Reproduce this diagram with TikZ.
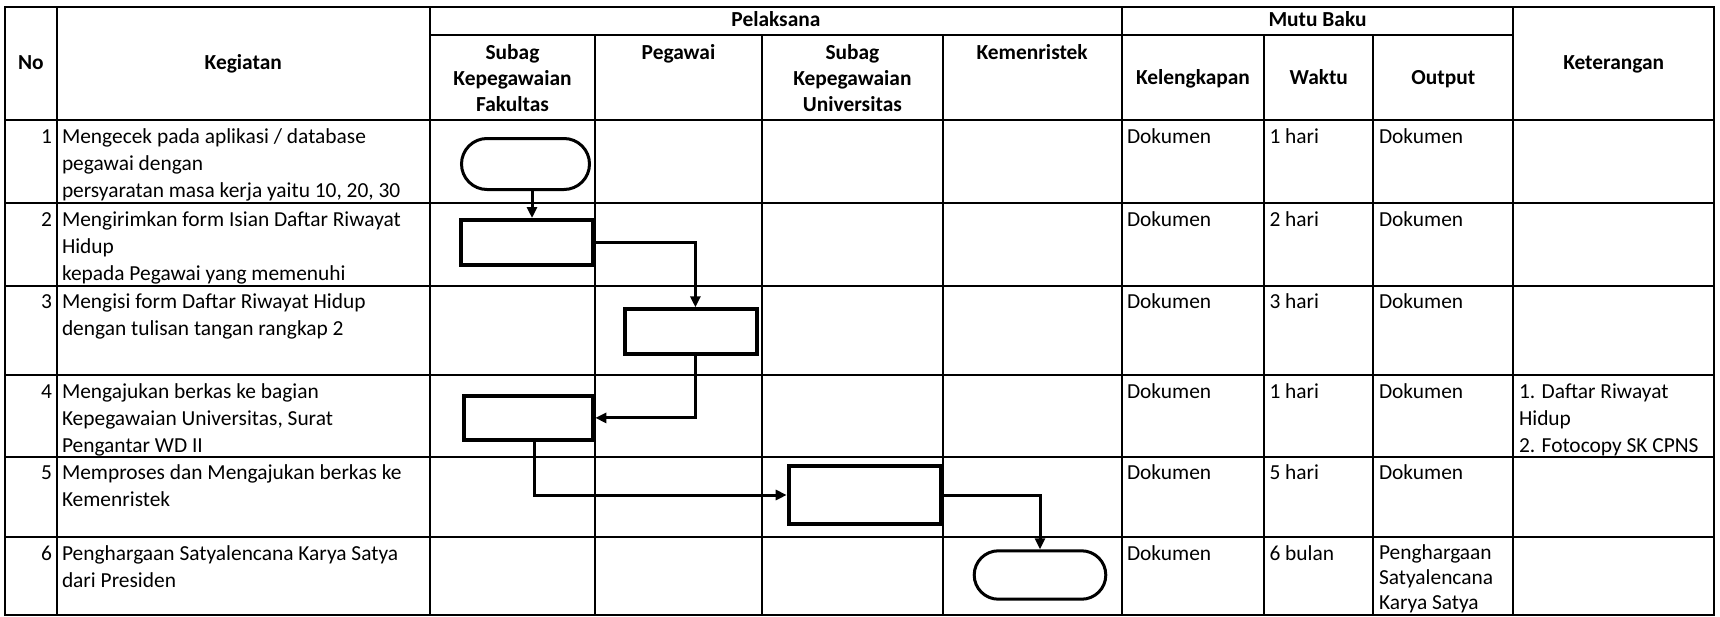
\documentclass[tikz,border=0pt]{standalone}
\usepackage{fontspec}
\setmainfont{Carlito}
\usetikzlibrary{arrows.meta,shapes.misc}
% style, name, anchor, x, first baseline y, pitch, list of lines
\newcommand\celllines[7]{%
  \foreach \myline [count=\i] in {#7} {%
    \node[#1, anchor=#3] (#2-\i) at (#4, {#5+#6*(\i-1)}) {\myline};}}
\begin{document}
\begin{tikzpicture}[x=1pt,y=-1pt,
  txt/.style={font={\fontsize{21.4}{27}\selectfont}, inner sep=0pt, outer sep=0pt},
  hdr/.style={txt, font={\fontsize{21.4}{27}\selectfont\bfseries}},
  grid/.style={line width=2.2pt, line cap=rect},
  box/.style={draw, rectangle, line width=4pt, inner sep=0pt},
  term/.style={draw, rounded rectangle, line width=3pt, inner sep=0pt},
  arr/.style={line width=3pt, -{Triangle[length=11pt,width=10pt]}}]
\useasboundingbox (0,0) rectangle (1720,616);
\fill[white] (0,0) rectangle (1720,616);

% ---- table grid ----
\draw[grid] (5,6.7) -- (1714,6.7);
\draw[grid] (430,35) -- (1513.3,35);
\foreach \yy in {120,203.3,286,375,456.7,537.3,614.8}
  \draw[grid] (5,\yy) -- (1714,\yy);
\foreach \xx in {5,56.7,430,1121.7,1513.3,1714}
  \draw[grid] (\xx,6.7) -- (\xx,614.8);
\foreach \xx in {595,762,942.7,1264.3,1373.3}
  \draw[grid] (\xx,35) -- (\xx,614.8);

% ---- headers ----
\node[hdr, anchor=base] (hNo) at (30.9,69) {No};
\node[hdr, anchor=base] (hKeg) at (243.3,69) {Kegiatan};
\node[hdr, anchor=base] (hPel) at (775.9,26.5) {Pelaksana};
\node[hdr, anchor=base] (hMutu) at (1317.5,26.5) {Mutu Baku};
\node[hdr, anchor=base] (hKet) at (1613.7,69) {Keterangan};
\celllines{hdr}{hSF}{base}{512.5}{59}{26}{Subag,Kepegawaian,Fakultas}
\node[hdr, anchor=base] (hPeg) at (678.5,59) {Pegawai};
\celllines{hdr}{hSU}{base}{852.4}{59}{26}{Subag,Kepegawaian,Universitas}
\node[hdr, anchor=base] (hKem) at (1032.2,59) {Kemenristek};
\node[hdr, anchor=base] (hKel) at (1193,84.5) {Kelengkapan};
\node[hdr, anchor=base] (hWak) at (1318.8,84.5) {Waktu};
\node[hdr, anchor=base] (hOut) at (1443.3,84.5) {Output};

% ---- numbers ----
\node[txt, anchor=base east] (n1) at (52,143) {1};
\node[txt, anchor=base east] (n2) at (52,226.3) {2};
\node[txt, anchor=base east] (n3) at (52,308.5) {3};
\node[txt, anchor=base east] (n4) at (52,398) {4};
\node[txt, anchor=base east] (n5) at (52,479.7) {5};
\node[txt, anchor=base east] (n6) at (52,560.3) {6};

% ---- kegiatan ----
\celllines{txt}{k1}{base west}{62}{143}{27}{Mengecek pada aplikasi / database,pegawai dengan,{persyaratan masa kerja yaitu 10, 20, 30}}
\celllines{txt}{k2}{base west}{62}{226.3}{27}{Mengirimkan form Isian Daftar Riwayat,Hidup,kepada Pegawai yang memenuhi}
\celllines{txt}{k3}{base west}{62}{308.5}{27}{Mengisi form Daftar Riwayat Hidup,dengan tulisan tangan rangkap 2}
\celllines{txt}{k4}{base west}{62}{398}{27}{Mengajukan berkas ke bagian,{Kepegawaian Universitas, Surat},Pengantar WD II}
\celllines{txt}{k5}{base west}{62}{479.7}{27}{Memproses dan Mengajukan berkas ke,Kemenristek}
\celllines{txt}{k6}{base west}{62}{560.3}{27}{Penghargaan Satyalencana Karya Satya,dari Presiden}

% ---- mutu baku ----
\foreach \yy [count=\r] in {143,226.3,308.5,398,479.7,560.3}
  \node[txt, anchor=base west] (kel\r) at (1127,\yy) {Dokumen};
\node[txt, anchor=base west] (w1) at (1269.5,143) {1 hari};
\node[txt, anchor=base west] (w2) at (1269.5,226.3) {2 hari};
\node[txt, anchor=base west] (w3) at (1269.5,308.5) {3 hari};
\node[txt, anchor=base west] (w4) at (1269.5,398) {1 hari};
\node[txt, anchor=base west] (w5) at (1269.5,479.7) {5 hari};
\node[txt, anchor=base west] (w6) at (1269.5,560.3) {6 bulan};
\foreach \yy [count=\r] in {143,226.3,308.5,398,479.7}
  \node[txt, anchor=base west] (o\r) at (1379,\yy) {Dokumen};
\celllines{txt}{o6}{base west}{1379}{559.5}{25}{Penghargaan,Satyalencana,Karya Satya}
\celllines{txt}{ket4}{base west}{1519}{398}{27}{1. Daftar Riwayat,Hidup,2. Fotocopy SK CPNS}

% ---- flow shapes ----
\node[term, minimum width=128pt, minimum height=51pt] (T1) at (525.5,164) {};
\node[box, minimum width=132pt, minimum height=45pt] (B2) at (527,242.5) {};
\node[box, minimum width=131.8pt, minimum height=44.4pt] (B3) at (691.3,331.5) {};
\node[box, minimum width=129.7pt, minimum height=43.7pt] (B4) at (528.5,417.9) {};
\node[box, minimum width=152pt, minimum height=58pt] (B5) at (864.7,495) {};
\node[term, minimum width=131.6pt, minimum height=48.4pt] (T6) at (1040,575) {};

\coordinate (a1) at (532,0);
\coordinate (a2) at (695.4,0);
\coordinate (a4) at (534.7,0);

\draw[arr] (T1.south -| a1) -- (B2.north -| a1);
\draw[arr] (B2.east) -| (B3.north -| a2);
\draw[arr] (B3.south -| a2) |- (B4.east);
\draw[arr] (B4.south -| a4) |- (B5.west);
\draw[arr] (B5.east) -| (T6.north);
\end{tikzpicture}
\end{document}
